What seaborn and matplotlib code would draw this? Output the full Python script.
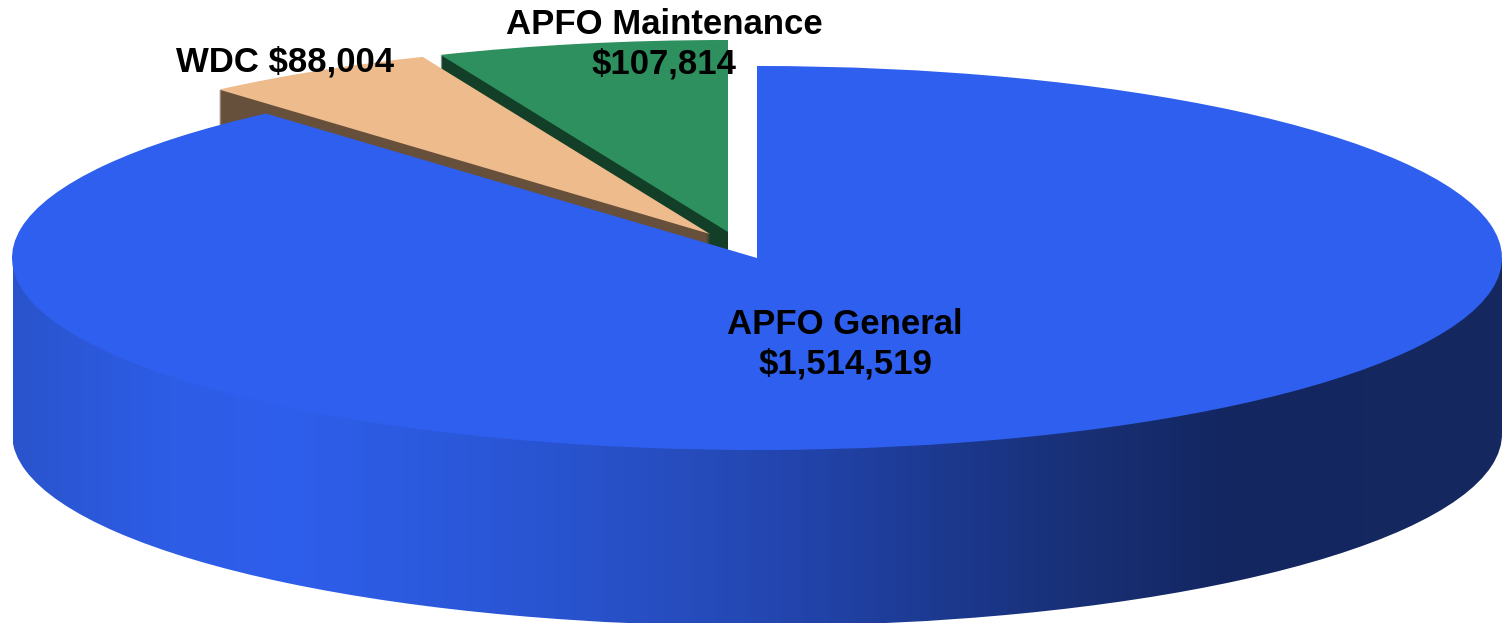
import matplotlib
matplotlib.use('Agg')
import numpy as np
import matplotlib.pyplot as plt
import seaborn as sns

#data, clockwise from 12 o'clock
names = ['APFO General', 'WDC', 'APFO Maintenance']
amounts = [1514519, 88004, 107814]
labels = ['APFO General\n$1,514,519', 'WDC $88,004', 'APFO Maintenance\n$107,814']

top_colors = ['#2E5FEE', '#EDBB8C', '#2E8F5F']
wall_colors = ['#14285F', '#67503B', '#133F28']

#geometry in pixels
W, H = 1503, 623
cx, cy = 757, 258
rx, ry = 745, 192
depth = 176
apex_px = [(757, 258), (710, 234), (728, 232)]
label_px = [(845, 344), (285, 62), (664, 44)]


def to_x(px):
    return (px - cx) / rx


def to_y(py):
    return (cy - py) / ry


def draw_slice(ax, idx, dy, color):
    #one real pie per layer, only one wedge stays visible
    x0, y0 = apex_px[idx]
    wedges, _ = ax.pie(amounts, radius=1, center=(to_x(x0), to_y(y0 + dy)),
                       startangle=90, counterclock=False, colors=[color] * 3,
                       wedgeprops={'linewidth': 0})
    for i, w in enumerate(wedges):
        if i != idx:
            w.set_visible(False)
    return wedges[idx]


sns.set_theme(style='white')
plt.rcParams['font.family'] = ['Liberation Sans', 'DejaVu Sans']

fig = plt.figure(figsize=(W / 100, H / 100), dpi=100)
ax = fig.add_axes([0, 0, 1, 1])

#back slices first, cut faces as stacked layers
for idx, wall_px in [(2, 30), (1, 45)]:
    for dy in range(wall_px, 0, -1):
        draw_slice(ax, idx, dy, wall_colors[idx])
    draw_slice(ax, idx, 0, top_colors[idx])

#side wall of the big slice with its left to right shading
side_cmap = sns.blend_palette(['#2A54CC', '#2D5CE4', '#2E5EEC', '#2C5ADE', '#2954D0', '#264CBD',
                               '#2142A7', '#1C388C', '#182F74', '#132660', '#14275F', '#15295F'],
                              n_colors=256, as_cmap=True)
shade = np.linspace(0, 1, W)[np.newaxis, :]
ax.imshow(shade, cmap=side_cmap, aspect='auto', zorder=2,
          extent=(to_x(13), to_x(1502), to_y(cy + depth), to_y(cy)))
bottom = draw_slice(ax, 0, depth, 'none')
low = ax.imshow(shade, cmap=side_cmap, aspect='auto', zorder=2,
                extent=(to_x(13), to_x(1502), to_y(H + 10), to_y(cy + depth)))
low.set_clip_path(bottom)

top = draw_slice(ax, 0, 0, top_colors[0])
top.set_zorder(3)

ax.set_aspect('auto')
ax.set_xlim(to_x(0), to_x(W))
ax.set_ylim(to_y(H), to_y(0))
ax.axis('off')

for lab, (px, py) in zip(labels, label_px):
    ax.text(to_x(px), to_y(py), lab, ha='center', va='center', color='black',
            fontsize=25, fontweight='bold', linespacing=1.26, zorder=5)

fig.savefig('out.png', dpi=100, facecolor='white')
